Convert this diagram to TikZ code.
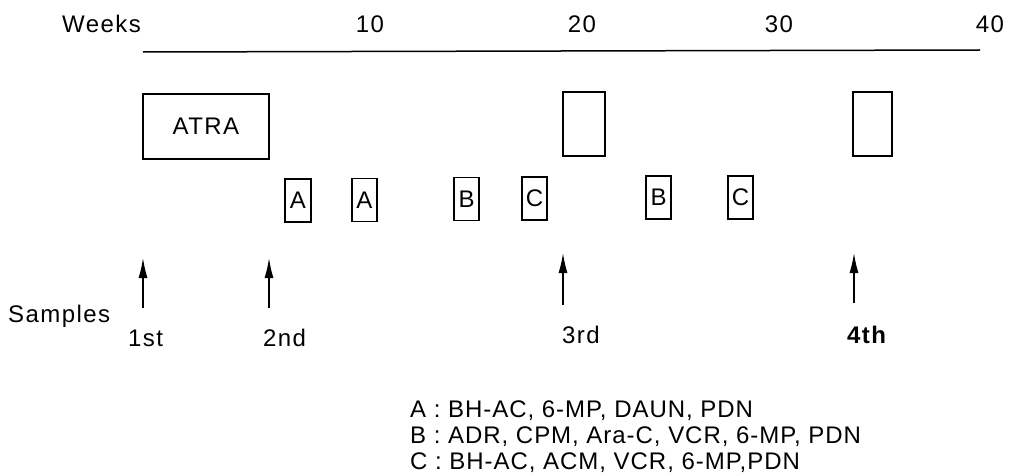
\documentclass[tikz,border=0pt]{standalone}
\usepackage{fontspec}
\setmainfont{Liberation Sans}[LetterSpace=6]
\newfontfamily\legfont{Liberation Sans}[LetterSpace=4]
\usetikzlibrary{arrows.meta}
\begin{document}
\begin{tikzpicture}[x=1pt,y=-1pt,
  font=\fontsize{24}{24}\selectfont,
  box/.style={draw,line width=1.3pt,inner sep=0pt},
  drugbox/.style={box,minimum width=25pt,minimum height=43pt},
  lbl/.style={anchor=base west,inner sep=0pt},
  leg/.style={lbl,font=\legfont\fontsize{24}{24}\selectfont},
  tick/.style={anchor=base,inner sep=0pt},
  smp/.style={-{Latex[length=20pt,width=9pt]},line width=1.4pt}]
\useasboundingbox (0,0) rectangle (1010,476);
% axis
\node[lbl] (weeks) at (62,33) {Weeks};
\node[tick] (w10) at (370,33) {10};
\node[tick] (w20) at (582,33) {20};
\node[tick] (w30) at (779,33) {30};
\node[tick] (w40) at (990,33) {40};
\coordinate (axL) at (143,52);
\coordinate (axR) at (980,50);
\draw[line width=1.5pt] (axL) -- (axR);
% big boxes
\node[box,minimum width=126pt,minimum height=65pt] (atra) at (206,126.5) {ATRA};
\node[box,minimum width=42pt,minimum height=64pt] (b3) at (584,124) {};
\node[box,minimum width=39pt,minimum height=64pt] (b4) at (872.5,124) {};
% drug boxes
\node[drugbox,minimum width=26pt] (a1) at (298,200.5) {A};
\node[drugbox] (a2) at (364.5,200) {A};
\node[drugbox] (bb1) at (466.5,199) {B};
\node[drugbox] (c1) at (534.5,198.5) {C};
\node[drugbox] (bb2) at (658.5,197.5) {B};
\node[drugbox] (c2) at (740.5,197.5) {C};
% sample arrows
\coordinate (s1b) at (143,308); \coordinate (s1t) at (143,258);
\coordinate (s2b) at (269,308); \coordinate (s2t) at (269,258);
\coordinate (s3b) at (563,305); \coordinate (s3t) at (563,253);
\coordinate (s4b) at (854,303); \coordinate (s4t) at (854,253);
\draw[smp] (s1b) -- (s1t);
\draw[smp] (s2b) -- (s2t);
\draw[smp] (s3b) -- (s3t);
\draw[smp] (s4b) -- (s4t);
% labels
\node[lbl] (samples) at (8,322) {Samples};
\node[lbl] (l1) at (128,346) {1st};
\node[lbl] (l2) at (263,346) {2nd};
\node[lbl] (l3) at (562,343) {3rd};
\node[lbl,font=\fontsize{24}{24}\selectfont\bfseries] (l4) at (847,343) {4th};
% legend
\node[leg] (legA) at (410,417) {A : BH-AC, 6-MP, DAUN, PDN};
\node[leg] (legB) at (410,443) {B : ADR, CPM, Ara-C, VCR, 6-MP, PDN};
\node[leg] (legC) at (410,469.5) {C : BH-AC, ACM, VCR, 6-MP,PDN};
\end{tikzpicture}
\end{document}
